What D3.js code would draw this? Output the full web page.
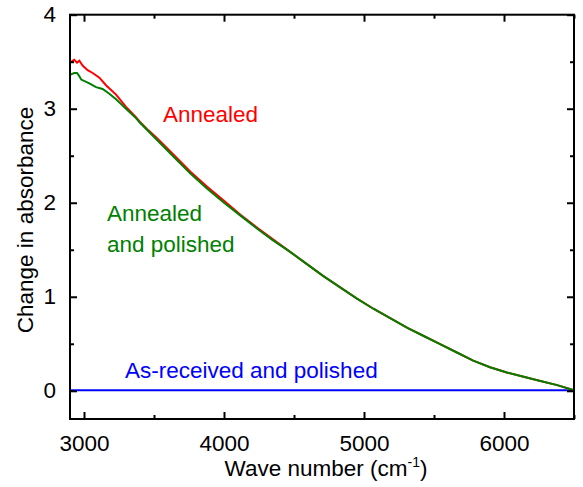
<!DOCTYPE html>
<html>
<head>
<meta charset="utf-8">
<script src="https://cdn.jsdelivr.net/npm/d3@7"></script>
<style>
  body { margin: 0; background: #fff; }
  text { font-family: "Liberation Sans", Arial, Helvetica, sans-serif; }
</style>
</head>
<body>
<div id="chart"></div>
<script>
// wave numbers (cm-1) and absorbance change
const annealedWave = [2900, 2930, 2950, 2967, 2990, 3026, 3062, 3110, 3157, 3229, 3300, 3371, 3400, 3460, 3520, 3640, 3760, 3880, 4000, 4120, 4240, 4350, 4470, 4590, 4710, 4830, 4950, 5070, 5190, 5310, 5430, 5540, 5660, 5780, 5900, 6020, 6140, 6260, 6380, 6500]
const annealedVals = [3.49, 3.52, 3.49, 3.51, 3.46, 3.41, 3.38, 3.33, 3.25, 3.15, 3.02, 2.91, 2.86, 2.77, 2.69, 2.51, 2.33, 2.17, 2.02, 1.87, 1.73, 1.61, 1.48, 1.35, 1.22, 1.10, 0.98, 0.87, 0.77, 0.67, 0.58, 0.50, 0.41, 0.32, 0.25, 0.195, 0.15, 0.105, 0.06, 0.005]

const polishedWave = [2900, 2930, 2950, 2965, 2980, 3038, 3086, 3133, 3181, 3229, 3300, 3371, 3400, 3460, 3520, 3640, 3760, 3880, 4000, 4120, 4240, 4350, 4470, 4590, 4710, 4830, 4950, 5070, 5190, 5310, 5430, 5540, 5660, 5780, 5900, 6020, 6140, 6260, 6380, 6500]
const polishedVals = [3.36, 3.38, 3.38, 3.35, 3.31, 3.27, 3.23, 3.21, 3.16, 3.10, 3.00, 2.90, 2.85, 2.76, 2.67, 2.49, 2.31, 2.15, 2.00, 1.86, 1.72, 1.60, 1.48, 1.35, 1.22, 1.10, 0.98, 0.87, 0.77, 0.67, 0.58, 0.50, 0.41, 0.32, 0.25, 0.195, 0.15, 0.105, 0.06, 0.005]

const receivedWave = [2900, 3500, 4000, 4500, 5000, 5500, 6000, 6500]
const receivedVals = [0.005, 0.005, 0.005, 0.005, 0.005, 0.005, 0.005, 0.005]

const xMajor = [3000, 4000, 5000, 6000]
const xMinor = [3500, 4500, 5500, 6500]
const yMajor = [0, 1, 2, 3, 4]
const yMinor = [0.5, 1.5, 2.5, 3.5]

const width = 583
const height = 487
const margin = {top: 14.7, right: 9, bottom: 68, left: 70}
const w = width - margin.left - margin.right
const h = height - margin.top - margin.bottom
const fontSize = 22.5

const svg = d3.select("#chart").append("svg")
  .attr("width", width)
  .attr("height", height)

const g = svg.append("g")
  .attr("transform", `translate(${margin.left},${margin.top})`)

const xScale = d3.scaleLinear().domain([2900, 6500]).range([0, w])
const yScale = d3.scaleLinear().domain([-0.3, 4]).range([h, 0])

const line = d3.line()
  .x(d => xScale(d[0]))
  .y(d => yScale(d[1]))

const series = [
  {wave: receivedWave, vals: receivedVals, color: "#0000ff"},
  {wave: annealedWave, vals: annealedVals, color: "#ff0000"},
  {wave: polishedWave, vals: polishedVals, color: "#008000"}
]

g.selectAll(".series")
  .data(series)
  .enter()
  .append("path")
    .attr("class", "series")
    .attr("d", s => line(s.wave.map((x, i) => [x, s.vals[i]])))
    .attr("fill", "none")
    .attr("stroke", s => s.color)
    .attr("stroke-width", 2)

// axes: ticks point inward on all four sides
function styleAxis(sel) {
  sel.select(".domain").remove()
  sel.selectAll("line").attr("stroke", "#000").attr("stroke-width", 2)
  sel.selectAll("text").attr("font-size", fontSize).attr("fill", "#000")
}

g.append("g")
  .attr("transform", `translate(0,${h})`)
  .call(d3.axisBottom(xScale).tickValues(xMajor).tickSize(-7).tickPadding(16).tickFormat(d3.format("d")))
  .call(styleAxis)
g.append("g")
  .attr("transform", `translate(0,${h})`)
  .call(d3.axisBottom(xScale).tickValues(xMinor).tickSize(-4).tickFormat(""))
  .call(styleAxis)
g.append("g")
  .call(d3.axisTop(xScale).tickValues(xMajor).tickSize(-7).tickFormat(""))
  .call(styleAxis)
g.append("g")
  .call(d3.axisTop(xScale).tickValues(xMinor).tickSize(-4).tickFormat(""))
  .call(styleAxis)

g.append("g")
  .call(d3.axisLeft(yScale).tickValues(yMajor).tickSize(-7).tickPadding(14).tickFormat(d3.format("d")))
  .call(styleAxis)
g.append("g")
  .call(d3.axisLeft(yScale).tickValues(yMinor).tickSize(-4).tickFormat(""))
  .call(styleAxis)
g.append("g")
  .attr("transform", `translate(${w},0)`)
  .call(d3.axisRight(yScale).tickValues(yMajor).tickSize(-7).tickFormat(""))
  .call(styleAxis)
g.append("g")
  .attr("transform", `translate(${w},0)`)
  .call(d3.axisRight(yScale).tickValues(yMinor).tickSize(-4).tickFormat(""))
  .call(styleAxis)

g.append("rect")
  .attr("width", w)
  .attr("height", h)
  .attr("fill", "none")
  .attr("stroke", "#000")
  .attr("stroke-width", 2)

// curve labels
const labels = [
  {text: "Annealed", x: 163, y: 122, color: "#ff0000"},
  {text: "Annealed", x: 107, y: 221, color: "#008000"},
  {text: "and polished", x: 107, y: 252, color: "#008000"},
  {text: "As-received and polished", x: 125, y: 378, color: "#0000ff"}
]
svg.selectAll(".label")
  .data(labels)
  .enter()
  .append("text")
    .attr("class", "label")
    .attr("x", d => d.x)
    .attr("y", d => d.y)
    .attr("fill", d => d.color)
    .attr("font-size", fontSize)
    .text(d => d.text)

const xTitle = svg.append("text")
  .attr("x", 326)
  .attr("y", 476)
  .attr("text-anchor", "middle")
  .attr("font-size", fontSize)
xTitle.append("tspan").text("Wave number (cm")
xTitle.append("tspan").attr("font-size", 14).attr("dy", -9).text("-1")
xTitle.append("tspan").attr("dy", 9).text(")")

svg.append("text")
  .attr("transform", "translate(33,220) rotate(-90)")
  .attr("text-anchor", "middle")
  .attr("font-size", fontSize)
  .text("Change in absorbance")
</script>
</body>
</html>
